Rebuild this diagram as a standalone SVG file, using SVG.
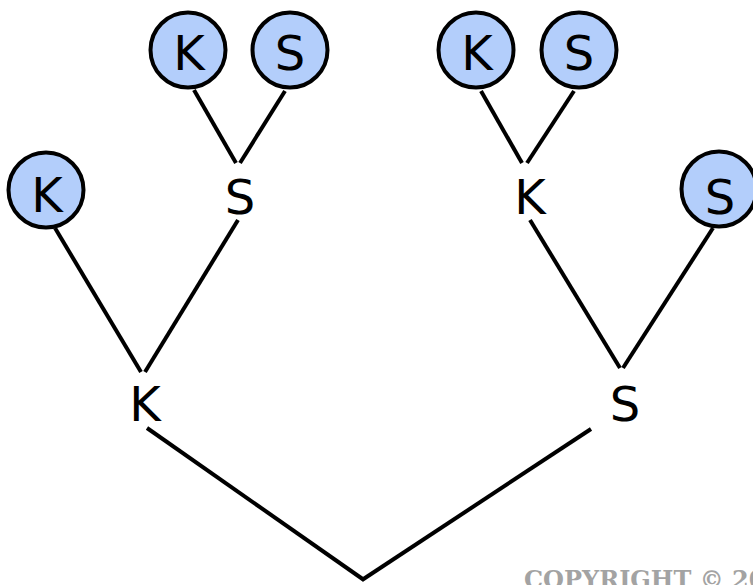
<svg xmlns="http://www.w3.org/2000/svg" width="753" height="585" viewBox="0 0 753 585">
  <style>
    .leaf circle { fill: #b3cefb; stroke: #000; stroke-width: 4; }
    text.lbl { font-family: "DejaVu Sans", sans-serif; font-size: 48px; fill: #000; text-anchor: middle; }
    #edges line { stroke: #000; stroke-width: 4; stroke-linecap: butt; }
    .copy { font-family: "DejaVu Serif", serif; font-weight: bold; font-size: 24px; fill: #a3a3a3; }
  </style>
  <rect width="753" height="585" fill="#fff"/>

  <g id="edges">
    <line x1="194" y1="90" x2="236" y2="163"/>
    <line x1="285" y1="91" x2="240" y2="163"/>
    <line x1="55" y1="228" x2="141" y2="372"/>
    <line x1="238" y1="220" x2="145" y2="372"/>
    <line x1="481" y1="91" x2="522" y2="163"/>
    <line x1="574" y1="91" x2="527" y2="163"/>
    <line x1="530" y1="220" x2="620" y2="368"/>
    <line x1="713" y1="228" x2="623" y2="368"/>
    <line x1="147" y1="428" x2="364" y2="580"/>
    <line x1="591" y1="429" x2="362" y2="580"/>
  </g>

  <g id="leaf-k1" class="leaf"><circle cx="188" cy="50" r="37.5"/><text class="lbl" x="189" y="70">K</text></g>
  <g id="leaf-s1" class="leaf"><circle cx="290" cy="50" r="37.5"/><text class="lbl" x="290" y="70">S</text></g>
  <g id="leaf-k2" class="leaf"><circle cx="46" cy="190" r="37.5"/><text class="lbl" x="47" y="212">K</text></g>
  <g id="leaf-k3" class="leaf"><circle cx="476" cy="50" r="37.5"/><text class="lbl" x="477" y="70">K</text></g>
  <g id="leaf-s2" class="leaf"><circle cx="579" cy="50" r="37.5"/><text class="lbl" x="579" y="70">S</text></g>
  <g id="leaf-s3" class="leaf"><circle cx="719" cy="189" r="37.5"/><text class="lbl" x="720" y="214">S</text></g>

  <g id="node-s-left"><text class="lbl" x="240" y="214">S</text></g>
  <g id="node-k-right"><text class="lbl" x="530" y="214">K</text></g>
  <g id="node-k-root-left"><text class="lbl" x="145" y="421">K</text></g>
  <g id="node-s-root-right"><text class="lbl" x="625" y="421">S</text></g>

  <text class="copy" x="524" y="588">COPYRIGHT © 20</text>
</svg>
